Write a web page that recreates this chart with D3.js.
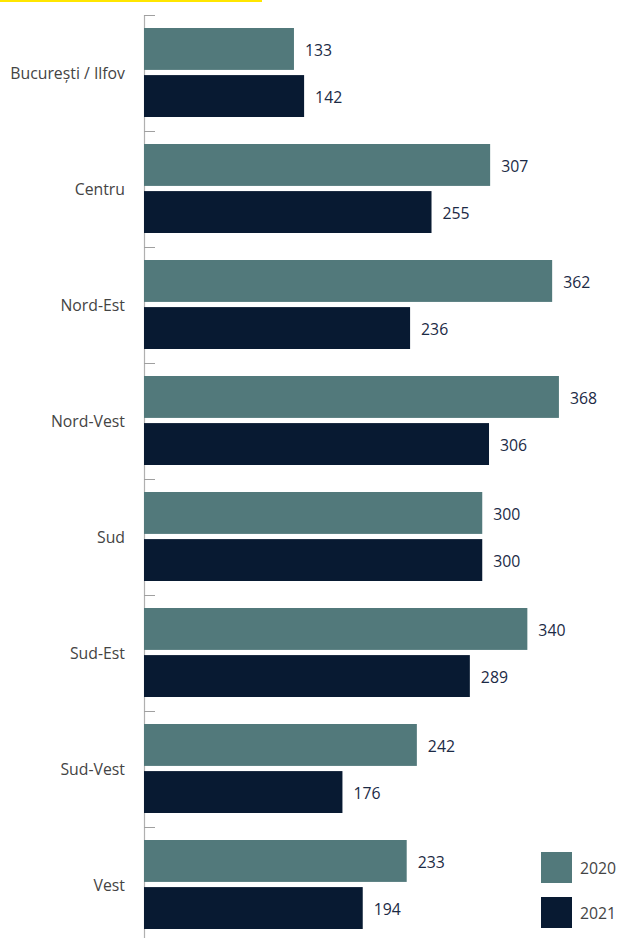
<!DOCTYPE html>
<html>
<head>
<meta charset="utf-8">
<script src="https://cdn.jsdelivr.net/npm/d3@7"></script>
<style>
  body { margin: 0; background: #fff; }
  svg { display: block; font-family: "Open Sans", "Noto Sans", sans-serif; }
</style>
</head>
<body>
<div class="chart"></div>
<script>
const regions = ["București / Ilfov", "Centru", "Nord-Est", "Nord-Vest", "Sud", "Sud-Est", "Sud-Vest", "Vest"];
const years = ["2020", "2021"];
const values2020 = [133, 307, 362, 368, 300, 340, 242, 233];
const values2021 = [142, 255, 236, 306, 300, 289, 176, 194];

const colors = {"2020": "#52797b", "2021": "#081a32"};

const w = 621, h = 938;

const data = regions.map((r, i) => ({region: r, "2020": values2020[i], "2021": values2021[i]}));

const svg = d3.select(".chart")
  .append("svg")
    .attr("width", w)
    .attr("height", h);

// yellow accent line at top
svg.append("rect")
  .attr("x", 0).attr("y", 0)
  .attr("width", 262).attr("height", 2)
  .attr("fill", "#ffe600");

const xScale = d3.scaleLinear()
  .domain([0, 400])
  .range([144, 595]);

const yScale = d3.scaleBand()
  .domain(regions)
  .range([15, 15 + 116 * regions.length]);

const ySub = d3.scaleBand()
  .domain(years)
  .range([13, 102])
  .paddingInner(0.11);

// axis line + ticks pointing right
svg.append("line")
  .attr("x1", 144.5).attr("x2", 144.5)
  .attr("y1", 15).attr("y2", h)
  .attr("stroke", "#b0b0b0")
  .attr("stroke-width", 1.2);

svg.append("g").selectAll("line")
  .data(regions)
  .join("line")
  .attr("x1", 144).attr("x2", 155)
  .attr("y1", d => yScale(d) + 0.5)
  .attr("y2", d => yScale(d) + 0.5)
  .attr("stroke", "#a0a0a0");

// category labels
svg.append("g").selectAll("text")
  .data(regions)
  .join("text")
  .attr("x", 125)
  .attr("y", d => yScale(d) + yScale.bandwidth() / 2)
  .attr("dy", "0.4em")
  .attr("text-anchor", "end")
  .attr("font-size", 15.8)
  .attr("fill", "#444")
  .text(d => d);

const groups = svg.append("g").selectAll("g")
  .data(data)
  .join("g")
  .attr("transform", d => `translate(0, ${yScale(d.region)})`);

const bars = groups.selectAll("g")
  .data(d => years.map(y => ({year: y, value: d[y]})))
  .join("g");

bars.append("rect")
  .attr("x", xScale(0))
  .attr("y", d => ySub(d.year))
  .attr("width", d => xScale(d.value) - xScale(0))
  .attr("height", ySub.bandwidth())
  .attr("fill", d => colors[d.year]);

bars.append("text")
  .attr("x", d => xScale(d.value) + 11)
  .attr("y", d => ySub(d.year) + ySub.bandwidth() / 2)
  .attr("dy", "0.42em")
  .attr("font-size", 15.8)
  .attr("fill", "#1b2a45")
  .text(d => d.value);

// legend
const legend = svg.append("g").selectAll("g")
  .data(years)
  .join("g")
  .attr("transform", (d, i) => `translate(541, ${852 + i * 45})`);

legend.append("rect")
  .attr("width", 31).attr("height", 31)
  .attr("fill", d => colors[d]);

legend.append("text")
  .attr("x", 39)
  .attr("y", 16)
  .attr("dy", "0.4em")
  .attr("font-size", 15.8)
  .attr("fill", "#444")
  .text(d => d);
</script>
</body>
</html>
